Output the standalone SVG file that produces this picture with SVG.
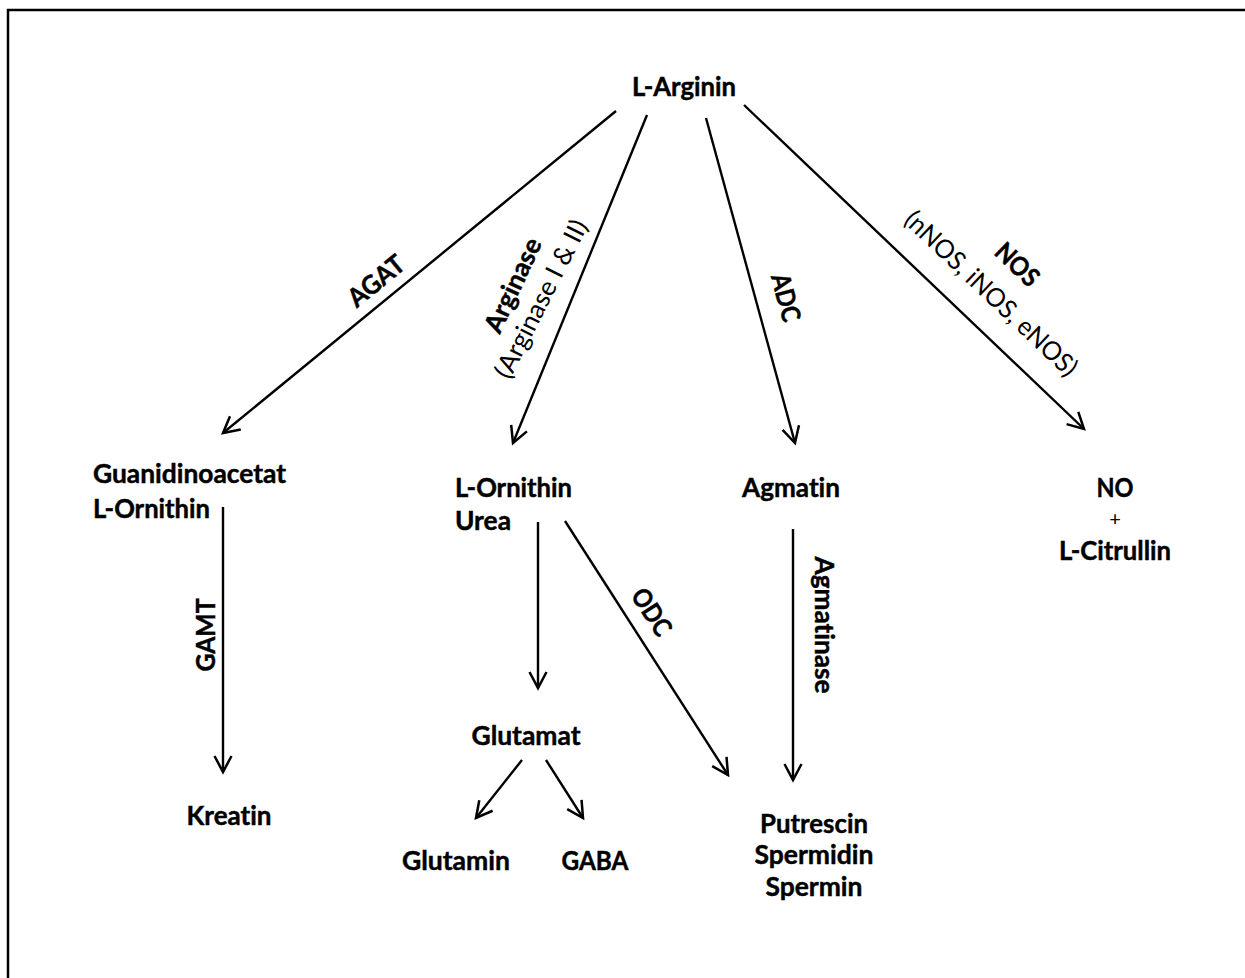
<svg xmlns="http://www.w3.org/2000/svg" width="1245" height="978" viewBox="0 0 1245 978">
<style>
text{font-family:Lato,"Liberation Sans",sans-serif;font-size:26px;fill:#000;font-variant-ligatures:none}
.t{font-weight:bold;stroke:#000;stroke-width:0.45}
.n{font-weight:normal}
.c{stroke:#000;stroke-width:2.4;fill:none;marker-end:url(#ah)}
</style>
<defs>
<marker id="ah" markerUnits="userSpaceOnUse" markerWidth="24" markerHeight="24" refX="17" refY="9.5" orient="auto" viewBox="0 0 24 19">
<path d="M1,1 L17,9.5 L1,18" fill="none" stroke="#000" stroke-width="2.5"/>
</marker>
</defs>
<rect width="1245" height="978" fill="#fff"/>
<path d="M8,978 L8,10 L1245,10" fill="none" stroke="#000" stroke-width="2.5"/>
<g id="connectors">
<line class="c" x1="616" y1="111" x2="223" y2="433"/>
<line class="c" x1="647" y1="115" x2="513" y2="443"/>
<line class="c" x1="706" y1="118" x2="795" y2="443"/>
<line class="c" x1="744" y1="105" x2="1084" y2="429"/>
<line class="c" x1="223" y1="507" x2="223" y2="772"/>
<line class="c" x1="538" y1="522" x2="538" y2="688"/>
<line class="c" x1="565" y1="521" x2="728" y2="775"/>
<line class="c" x1="793" y1="529" x2="793" y2="780"/>
<line class="c" x1="522" y1="760" x2="476" y2="818"/>
<line class="c" x1="546" y1="760" x2="583" y2="818"/>
<text class="t" transform="translate(382,288) rotate(-39.3)" text-anchor="middle" textLength="65" lengthAdjust="spacingAndGlyphs">AGAT</text>
<text class="t" transform="translate(521,289) rotate(-65)" text-anchor="middle" textLength="101" lengthAdjust="spacingAndGlyphs">Arginase</text>
<text class="n" transform="translate(549,303) rotate(-63)" text-anchor="middle" textLength="174" lengthAdjust="spacingAndGlyphs">(Arginase I &amp; II)</text>
<text class="t" transform="translate(777,300) rotate(75)" text-anchor="middle" textLength="49" lengthAdjust="spacingAndGlyphs">ADC</text>
<text class="t" transform="translate(1011,271) rotate(44)" text-anchor="middle" textLength="50" lengthAdjust="spacingAndGlyphs">NOS</text>
<text class="n" transform="translate(985,300) rotate(43.5)" text-anchor="middle" textLength="227" lengthAdjust="spacingAndGlyphs">(nNOS, iNOS, eNOS)</text>
<text class="t" transform="translate(215,635) rotate(-90)" text-anchor="middle" textLength="73" lengthAdjust="spacingAndGlyphs">GAMT</text>
<text class="t" transform="translate(644,617) rotate(57)" text-anchor="middle" textLength="51" lengthAdjust="spacingAndGlyphs">ODC</text>
<text class="t" transform="translate(815,625) rotate(90)" text-anchor="middle" textLength="137" lengthAdjust="spacingAndGlyphs">Agmatinase</text>
</g>
<g id="n-arginin"><text class="t" x="684" y="96" text-anchor="middle" textLength="104" lengthAdjust="spacingAndGlyphs">L-Arginin</text></g>
<g id="n-guan"><text class="t" x="93" y="483" textLength="193" lengthAdjust="spacingAndGlyphs">Guanidinoacetat</text><text class="t" x="93" y="518" textLength="117" lengthAdjust="spacingAndGlyphs">L-Ornithin</text></g>
<g id="n-orn"><text class="t" x="455" y="497" textLength="117" lengthAdjust="spacingAndGlyphs">L-Ornithin</text><text class="t" x="455" y="530" textLength="56" lengthAdjust="spacingAndGlyphs">Urea</text></g>
<g id="n-agmatin"><text class="t" x="791" y="497" text-anchor="middle" textLength="98" lengthAdjust="spacingAndGlyphs">Agmatin</text></g>
<g id="n-no"><text class="t" x="1115" y="497" text-anchor="middle" textLength="37" lengthAdjust="spacingAndGlyphs">NO</text><text class="n" x="1115" y="526" text-anchor="middle" style="font-size:20px">+</text><text class="t" x="1115" y="560" text-anchor="middle" textLength="112" lengthAdjust="spacingAndGlyphs">L-Citrullin</text></g>
<g id="n-kreatin"><text class="t" x="229" y="825" text-anchor="middle" textLength="85" lengthAdjust="spacingAndGlyphs">Kreatin</text></g>
<g id="n-glutamat"><text class="t" x="526" y="745" text-anchor="middle" textLength="109" lengthAdjust="spacingAndGlyphs">Glutamat</text></g>
<g id="n-glutamin"><text class="t" x="456" y="870" text-anchor="middle" textLength="108" lengthAdjust="spacingAndGlyphs">Glutamin</text></g>
<g id="n-gaba"><text class="t" x="595" y="870" text-anchor="middle" textLength="67" lengthAdjust="spacingAndGlyphs">GABA</text></g>
<g id="n-putrescin"><text class="t" x="814" y="833" text-anchor="middle" textLength="108" lengthAdjust="spacingAndGlyphs">Putrescin</text><text class="t" x="814" y="864" text-anchor="middle" textLength="119" lengthAdjust="spacingAndGlyphs">Spermidin</text><text class="t" x="814" y="896" text-anchor="middle" textLength="97" lengthAdjust="spacingAndGlyphs">Spermin</text></g>
</svg>
